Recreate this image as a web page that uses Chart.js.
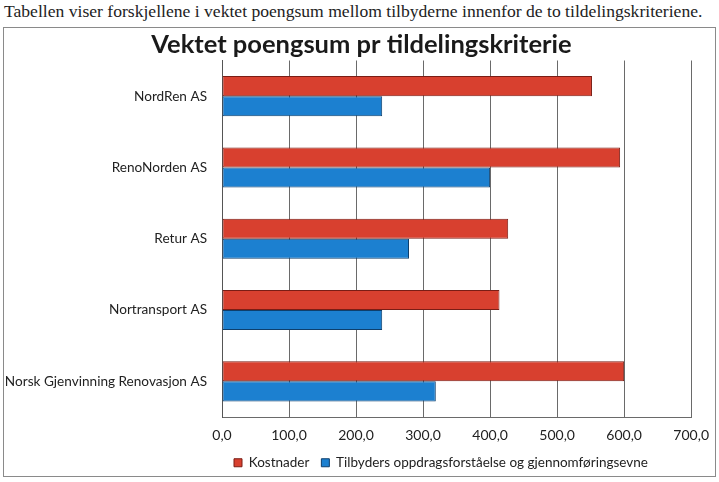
<!DOCTYPE html>
<html>
<head>
<meta charset="utf-8">
<script src="https://cdn.jsdelivr.net/npm/chart.js@4/dist/chart.umd.min.js"></script>
<style>
html,body{margin:0;padding:0;background:#fff;width:719px;height:482px;overflow:hidden;}
#hdr{position:absolute;left:4px;top:1px;font-family:"Liberation Serif","DejaVu Serif",serif;font-size:17.6px;color:#222;white-space:nowrap;}
#frame{position:absolute;left:3px;top:27px;width:713px;height:450px;border:1px solid #8a8a8a;box-sizing:border-box;}
#wrap{position:absolute;left:0;top:0;width:719px;height:482px;}
</style>
</head>
<body>
<div id="hdr">Tabellen viser forskjellene i vektet poengsum mellom tilbyderne innenfor de to tildelingskriteriene.</div>
<div id="frame"></div>
<div id="wrap"><canvas id="c" width="719" height="482"></canvas></div>
<script>
const categories = ["NordRen AS", "RenoNorden AS", "Retur AS", "Nortransport AS", "Norsk Gjenvinning Renovasjon AS"];
const seriesNames = ["Kostnader", "Tilbyders oppdragsforståelse og gjennomføringsevne"];
const kostnader = [552, 594, 427, 414, 600];
const tilbyders = [239, 400, 279, 239, 319];
const tickValues = [0, 100, 200, 300, 400, 500, 600, 700];

const font = "Lato, 'Open Sans', sans-serif";

new Chart(document.getElementById('c'), {
  type: 'bar',
  data: {
    labels: categories,
    datasets: [
      { label: seriesNames[0], data: kostnader, yAxisID: 'y', backgroundColor: '#d8402f', borderColor: '#7a1d15', borderWidth: 1, borderSkipped: false, categoryPercentage: 0.563, barPercentage: 1.0 },
      { label: seriesNames[1], data: tilbyders, yAxisID: 'y', backgroundColor: '#1c80d0', borderColor: '#0e3f6c', borderWidth: 1, borderSkipped: false, categoryPercentage: 0.563, barPercentage: 1.0 }
    ]
  },
  options: {
    indexAxis: 'y',
    responsive: false,
    animation: false,
    layout: { padding: { left: 4, right: 0, top: 0, bottom: 2.5 } },
    plugins: {
      title: {
        display: true,
        text: 'Vektet poengsum pr tildelingskriterie',
        color: '#1a1a1a',
        font: { family: font, size: 25.5, weight: 'bold', lineHeight: 1 },
        padding: { top: 32, bottom: 3 }
      },
      legend: {
        position: 'bottom',
        fullSize: false,
        align: 'start',
        labels: {
          color: '#222',
          font: { family: font, size: 13.5 },
          boxWidth: 8,
          boxHeight: 8,
          padding: 12
        }
      },
      tooltip: { enabled: false }
    },
    scales: {
      x: {
        min: 0,
        max: 700,
        afterBuildTicks: s => { s.ticks = tickValues.map(v => ({ value: v })); },
        afterFit: s => { s.height = 27; },
        grid: { color: '#6a6a6a', lineWidth: 1, drawTicks: false },
        border: { display: true, color: '#6a6a6a' },
        ticks: {
          color: '#222',
          font: { family: font, size: 14 },
          padding: 10,
          callback: v => v.toFixed(1).replace('.', ',')
        }
      },
      y: {
        afterFit: s => { s.width = 218; },
        grid: { display: false },
        border: { display: true, color: '#555' },
        ticks: {
          color: '#222',
          font: { family: font, size: 13.6 },
          padding: 7
        }
      },
      yR: {
        type: 'category',
        position: 'right',
        afterFit: s => { s.width = 27; },
        grid: { display: false },
        border: { display: false },
        ticks: { display: false }
      }
    }
  }
});
</script>
</body>
</html>
